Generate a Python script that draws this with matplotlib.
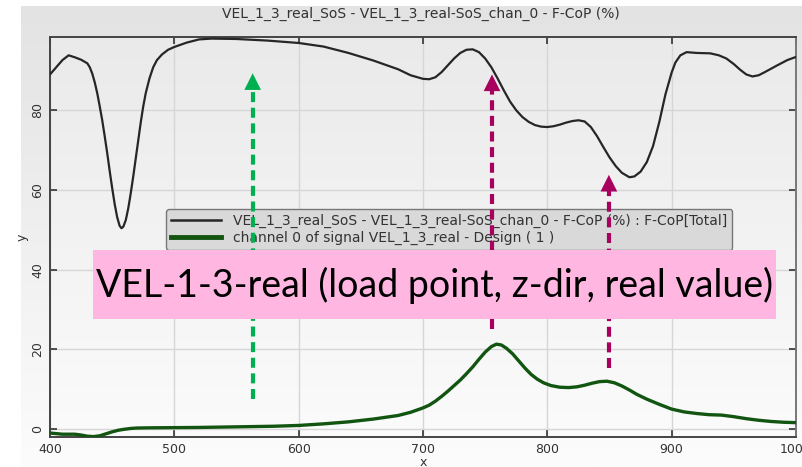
import numpy as np
import matplotlib
matplotlib.use('Agg')
import matplotlib.pyplot as plt
from matplotlib.patches import Rectangle

# F-CoP (%) total, read along the frequency axis
fcop_x = [400, 405, 410, 415, 420, 425, 430, 432, 434, 436, 438, 440, 442, 444, 446,
          448, 450, 452, 454, 456, 457.5, 459, 461, 463, 465, 467, 469, 471, 473, 475,
          477, 480, 483, 486, 490, 495, 500, 510, 520, 530, 550, 575, 600, 620, 640,
          660, 680, 690, 700, 705, 710, 715, 720, 725, 730, 735, 740, 745, 750, 755,
          760, 765, 770, 775, 780, 785, 790, 795, 800, 805, 810, 815, 820, 825, 830,
          835, 840, 845, 850, 855, 860, 866, 870, 875, 880, 885, 890, 895, 900, 903,
          907, 912, 920, 931, 938, 944, 950, 955, 960, 965, 970, 975, 985, 993, 1000]
fcop_y = [89.0, 90.8, 92.6, 93.8, 93.3, 92.7, 91.8, 90.8, 89.2, 87.0, 84.3, 81.0, 77.5, 73.5, 69.3,
          64.8, 60.5, 56.5, 53.2, 51.0, 50.4, 50.8, 52.5, 55.5, 59.3, 63.5, 68.0, 72.5, 77.0, 81.0,
          84.3, 88.0, 90.8, 92.6, 94.0, 95.2, 95.9, 97.0, 97.8, 98.0, 97.9, 97.5, 96.9, 96.0, 94.4,
          92.5, 90.3, 88.8, 87.9, 87.8, 88.3, 89.6, 91.3, 93.0, 94.4, 95.2, 95.3, 94.6, 93.0, 90.8,
          88.0, 85.0, 82.2, 80.0, 78.3, 77.1, 76.3, 75.9, 75.8, 76.0, 76.4, 76.9, 77.3, 77.5, 77.2,
          75.8, 73.5, 70.8, 68.2, 66.0, 64.3, 63.2, 63.4, 64.6, 67.0, 71.0, 77.0, 84.0, 89.5, 92.0,
          93.8, 94.6, 94.4, 94.3, 93.8, 93.0, 91.6, 90.2, 89.0, 88.5, 88.8, 89.6, 91.3, 92.6, 93.4]

# channel 0 of the design signal
chan_x = [400, 410, 420, 425, 430, 435, 440, 445, 450, 455, 460, 465, 470, 480, 500,
          520, 550, 580, 600, 620, 640, 660, 680, 690, 700, 705, 710, 715, 720, 725,
          730, 735, 740, 745, 750, 755, 759, 763, 767, 772, 777, 782, 787, 792, 797,
          803, 810, 817, 824, 830, 836, 842, 848, 854, 860, 866, 872, 880, 890, 900,
          910, 920, 930, 940, 950, 960, 970, 980, 990, 1000]
chan_y = [-1.0, -1.3, -1.3, -1.5, -1.8, -1.9, -1.7, -1.2, -0.7, -0.3, -0.05, 0.15, 0.25, 0.3, 0.35,
          0.4, 0.55, 0.7, 0.9, 1.3, 1.8, 2.5, 3.4, 4.2, 5.3, 6.0, 7.0, 8.2, 9.5, 10.9,
          12.3, 13.9, 15.6, 17.5, 19.3, 20.7, 21.3, 21.1, 20.3, 18.9, 17.1, 15.3, 13.7, 12.5, 11.6,
          10.9, 10.5, 10.4, 10.6, 11.0, 11.5, 11.9, 12.0, 11.6, 10.8, 9.8, 8.7, 7.5, 6.2, 5.0,
          4.3, 3.9, 3.6, 3.5, 3.1, 2.6, 2.2, 1.9, 1.7, 1.6]

fcop_label = 'VEL_1_3_real_SoS - VEL_1_3_real-SoS_chan_0 - F-CoP (%) : F-CoP[Total]'
chan_label = 'channel 0 of signal VEL_1_3_real - Design ( 1 )'
title = 'VEL_1_3_real_SoS - VEL_1_3_real-SoS_chan_0 - F-CoP (%)'
note = 'VEL-1-3-real (load point, z-dir, real value)'

# (x, y_start, y_tip, colour) for the highlight arrows
arrows = [(563, 7.5, 89.3, '#00b050'),
          (755.5, 25.0, 89.0, '#a8005f'),
          (849.5, 15.3, 63.8, '#a8005f')]

W, H = 802, 467
fig = plt.figure(figsize=(W / 100, H / 100), dpi=100)
fig.patch.set_facecolor('white')

# grey panel behind the plot
bg = fig.add_axes([21 / W, 0, 1 - 21 / W, 1 - 6 / H], zorder=-10)
grad = np.linspace(0, 1, 256).reshape(-1, 1)
bg.imshow(grad, cmap=matplotlib.colors.LinearSegmentedColormap.from_list('p', ['#e3e3e3', '#fcfcfc']),
          aspect='auto', extent=[0, 1, 1, 0])
bg.set_axis_off()

ax = fig.add_axes([50 / W, 30 / H, 746 / W, 400 / H])
ax.set_facecolor('none')
ax.imshow(grad, cmap=matplotlib.colors.LinearSegmentedColormap.from_list('a', ['#eaeaea', '#fbfbfb']),
          aspect='auto', extent=[0, 1, 0, 1], transform=ax.transAxes, zorder=-5,
          origin='upper')

ax.plot(fcop_x, fcop_y, color='#262626', lw=1.6, label=fcop_label, zorder=3)
ax.plot(chan_x, chan_y, color='#115511', lw=2.4, label=chan_label, zorder=3)

ax.set_xlim(400, 1000)
ax.set_ylim(-2.0, 98.4)
ax.set_xticks([400, 500, 600, 700, 800, 900, 1000])
ax.set_yticks([0, 20, 40, 60, 80])
ax.grid(True, color='#d6d6d6', lw=1)
ax.set_axisbelow(True)
ax.tick_params(direction='in', top=True, right=True, length=5, width=1.2,
               labelsize=9, labelcolor='#333333', color='#333333', pad=4)
plt.setp(ax.get_yticklabels(), rotation=90, va='center')
for side in ['left', 'bottom', 'top']:
    ax.spines[side].set_color('#444444')
    ax.spines[side].set_linewidth(1.4)
ax.spines['right'].set_color('#777777')
ax.spines['right'].set_linewidth(1.4)
ax.set_xlabel('x', fontsize=9, color='#333333', labelpad=0)
ax.set_ylabel('y', fontsize=9, color='#333333', labelpad=2)

fig.text(421 / W, 1 - 14 / H, title, ha='center', va='center', fontsize=10, color='#333333')

leg = ax.legend(loc='upper left', fontsize=10, frameon=True, fancybox=True,
                facecolor='#d9d9d9', edgecolor='#777777', framealpha=1,
                handlelength=3.6, handletextpad=0.9, borderpad=0.35, labelspacing=0.2,
                borderaxespad=0, labelcolor='#333333')
leg.set_bbox_to_anchor(((166 - 50) / 746, (437 - 209) / 400), transform=ax.transAxes)
leg.set_zorder(5)
leg.get_lines()[0].set_linewidth(1.8)
leg.get_lines()[1].set_linewidth(3.5)

# pink caption box
fig.patches.append(Rectangle((93 / W, 1 - 319 / H), (776 - 93) / W, (319 - 250) / H,
                             transform=fig.transFigure, facecolor='#ffb7e1', edgecolor='none',
                             zorder=6))
fig.text((93 + 776) / 2 / W, 1 - 285 / H, note, ha='center', va='center',
         fontsize=27, family='Lato', color='black', zorder=7)

for x, y0, y1, col in arrows:
    ax.plot([x, x], [y0, y1 - 3.5], color=col, lw=3, linestyle=(0, (2.4, 1.35)),
            solid_capstyle='butt', zorder=8, clip_on=False)
    ax.annotate('', xy=(x, y1), xytext=(x, y1 - 4.0),
                arrowprops=dict(arrowstyle='-|>,head_length=0.6,head_width=0.3',
                                mutation_scale=20, color=col, lw=0, shrinkA=0, shrinkB=0),
                zorder=8)

fig.savefig('out.png', dpi=100)
